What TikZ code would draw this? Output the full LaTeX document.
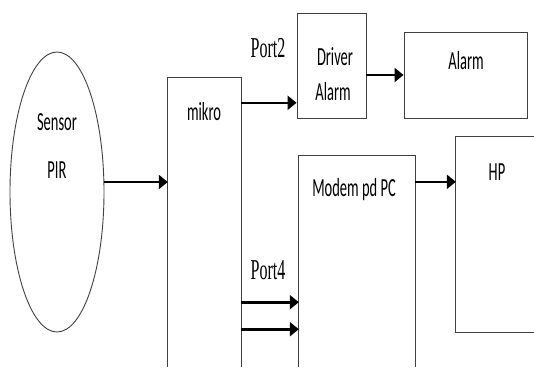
\documentclass[tikz,border=0pt]{standalone}
\usepackage{fontspec}
\setmainfont{Carlito}
\newfontfamily\portfont{Liberation Serif}
\usetikzlibrary{shapes.geometric,arrows.meta}
\newcommand{\tall}[1]{\scalebox{1}[1.8]{#1}}
\begin{document}
\begin{tikzpicture}[x=1pt,y=-1pt]
  \tikzstyle{box}=[draw=black!75,line width=0.9pt,rectangle,inner sep=0pt]
  \tikzstyle{openbox}=[rectangle,inner sep=0pt]
  \tikzstyle{edge}=[draw=black!75,line width=0.9pt]
  \tikzstyle{arr}=[line width=2.6pt,-{Triangle[length=9pt,width=14pt]}]
  \tikzstyle{txt}=[font=\fontsize{14.5}{17}\selectfont,inner sep=0pt]
  \tikzstyle{port}=[font=\portfont\fontsize{16}{18}\selectfont,inner sep=0pt]
  \useasboundingbox (0,0) rectangle (534,367);
  \node[box,ellipse,minimum width=94pt,minimum height=280pt] (sensor) at (57,192) {};
  \node[txt] (sensorname) at (57,122) {\tall{Sensor}};
  \node[txt] (pirname) at (57,170) {\tall{PIR}};
  \node[openbox,minimum width=73pt,minimum height=289pt] (mikro) at (204.5,222.5) {};
  \node[txt] (mikroname) at (204,112) {\tall{mikro}};
  \node[box,minimum width=69pt,minimum height=105pt] (driver) at (331.5,65.5) {};
  \node[txt] (drivername) at (335,57) {\tall{Driver}};
  \node[txt] (driveralarm) at (333,92) {\tall{Alarm}};
  \node[box,minimum width=123pt,minimum height=86pt] (alarm) at (465.5,75) {};
  \node[txt] (alarmname) at (466,61) {\tall{Alarm}};
  \node[openbox,minimum width=116pt,minimum height=211pt] (modem) at (357,261.5) {};
  \node[txt] (modemname) at (354,190) {\tall{Modem pd PC}};
  \node[openbox,minimum width=84pt,minimum height=195pt] (hp) at (498,234.5) {};
  \node[txt] (hpname) at (497,172) {\tall{HP}};
  \node[port] (port2) at (268,48) {\tall{Port2}};
  \node[port] (port4) at (268,270) {\tall{Port4}};
  \draw[edge] (mikro.south west) |- (mikro.north east) -- (mikro.south east);
  \draw[edge] (modem.south west) |- (modem.north east) -- (modem.south east);
  \draw[edge] (hp.north east) -| (hp.south west) -- (hp.south east);
  \draw[arr] ([yshift=10pt]sensor.east) coordinate (s1) -- (s1 -| mikro.west);
  \draw[arr] ([yshift=-25pt]mikro.north east) coordinate (p2) -- (p2 -| driver.west);
  \draw[arr] (driver.east |- alarm.west) -- (alarm.west);
  \draw[arr] ([yshift=-26pt]modem.north east) coordinate (m1) -- (m1 -| hp.west);
  \draw[arr] ([yshift=65pt]mikro.south east) coordinate (p4a) -- (p4a -| modem.west);
  \draw[arr] ([yshift=38pt]mikro.south east) coordinate (p4b) -- (p4b -| modem.west);
\end{tikzpicture}
\end{document}
